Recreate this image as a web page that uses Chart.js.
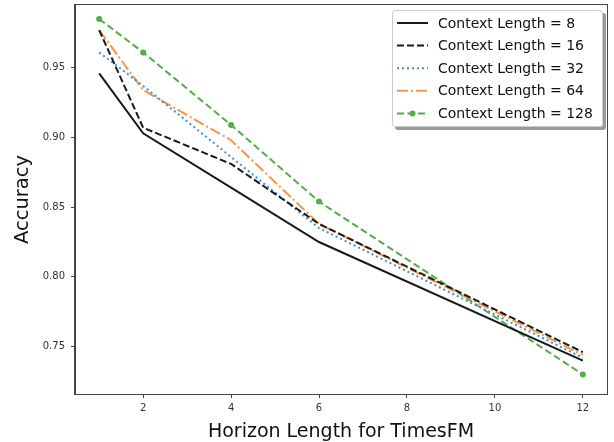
<!DOCTYPE html>
<html><head><meta charset="utf-8">
<script src="https://cdn.jsdelivr.net/npm/chart.js@4/dist/chart.umd.min.js"></script>
<style>html,body{margin:0;padding:0;background:#fff}</style>
</head><body>
<canvas id="c" width="614" height="442"></canvas>
<script>
const horizons = [1, 2, 4, 6, 12];
const ctxLen8   = [0.946, 0.903, 0.864, 0.825, 0.740];
const ctxLen16  = [0.977, 0.907, 0.881, 0.838, 0.746];
const ctxLen32  = [0.961, 0.937, 0.886, 0.835, 0.742];
const ctxLen64  = [0.977, 0.934, 0.898, 0.838, 0.744];
const ctxLen128 = [0.985, 0.961, 0.909, 0.854, 0.730];
const seriesLabels = ['Context Length = 8','Context Length = 16','Context Length = 32','Context Length = 64','Context Length = 128'];
const xTicks = [2, 4, 6, 8, 10, 12];
const yTicks = [0.75, 0.80, 0.85, 0.90, 0.95];

const FONT = "'DejaVu Sans', sans-serif";
const pts = arr => arr.map((v, i) => ({x: horizons[i], y: v}));

const styles = [
  {color:'#1a1a1a', dash:[]},
  {color:'#1a1a1a', dash:[7,3]},
  {color:'#3f8fd2', dash:[2,3]},
  {color:'#f89445', dash:[11,3,2,3]},
  {color:'#52ae48', dash:[7,3.5], marker:true}
];
const values = [ctxLen8, ctxLen16, ctxLen32, ctxLen64, ctxLen128];

const datasets = values.map((v, i) => ({
  label: seriesLabels[i],
  data: pts(v),
  borderColor: styles[i].color,
  backgroundColor: styles[i].color,
  borderWidth: 2,
  borderDash: styles[i].dash,
  pointRadius: styles[i].marker ? 3 : 0,
  pointHoverRadius: 0,
  pointBorderWidth: 0,
  tension: 0,
  fill: false
}));

const framePlugin = {
  id: 'frame',
  afterDraw(chart) {
    const c = chart.ctx, a = chart.chartArea;
    c.save();
    c.strokeStyle = '#444';
    c.lineWidth = 1;
    c.strokeRect(Math.round(a.left) - 0.5, Math.round(a.top) - 0.5, Math.round(a.right - a.left) + 1, Math.round(a.bottom - a.top) + 1);
    // legend
    const x0 = 392, y0 = 10, w = 211, h = 117;
    function rr(x, y, ww, hh, r) {
      c.beginPath();
      c.moveTo(x + r, y); c.lineTo(x + ww - r, y); c.quadraticCurveTo(x + ww, y, x + ww, y + r);
      c.lineTo(x + ww, y + hh - r); c.quadraticCurveTo(x + ww, y + hh, x + ww - r, y + hh);
      c.lineTo(x + r, y + hh); c.quadraticCurveTo(x, y + hh, x, y + hh - r);
      c.lineTo(x, y + r); c.quadraticCurveTo(x, y, x + r, y); c.closePath();
    }
    c.fillStyle = 'rgba(0,0,0,0.4)';
    rr(x0 + 3, y0 + 3, w, h, 3); c.fill();
    c.fillStyle = '#fff';
    rr(x0, y0, w, h, 3); c.fill();
    c.strokeStyle = '#cccccc'; c.lineWidth = 1;
    rr(x0 + 0.5, y0 + 0.5, w - 1, h - 1, 3); c.stroke();
    chart.data.datasets.forEach((ds, i) => {
      const y = 23 + i * 22.6;
      c.beginPath();
      c.setLineDash(ds.borderDash || []);
      c.strokeStyle = ds.borderColor; c.lineWidth = ds.borderWidth;
      c.moveTo(397, y); c.lineTo(428, y); c.stroke();
      c.setLineDash([]);
      if (ds.pointRadius > 0) {
        c.beginPath(); c.fillStyle = ds.borderColor;
        c.arc(412.5, y, ds.pointRadius, 0, Math.PI * 2); c.fill();
      }
      c.fillStyle = '#111';
      c.font = '14px ' + FONT;
      c.textBaseline = 'middle'; c.textAlign = 'left';
      c.fillText(ds.label, 438, y + 1);
    });
    c.restore();
  }
};

new Chart(document.getElementById('c'), {
  type: 'line',
  data: {datasets},
  options: {
    responsive: false,
    animation: false,
    events: [],
    layout: {padding: {top: 5, right: 7, left: 0, bottom: 0}},
    plugins: {legend: {display: false}, tooltip: {enabled: false}},
    scales: {
      x: {
        type: 'linear', min: 0.45, max: 12.55,
        afterBuildTicks: s => { s.ticks = xTicks.map(v => ({value: v})); },
        afterFit: s => { s.height = 48; s.paddingLeft = 0; s.paddingRight = 0; },
        grid: {drawOnChartArea: false, drawTicks: true, tickLength: 4, color: '#444'},
        border: {display: true, color: '#444'},
        ticks: {font: {family: FONT, size: 10}, color: '#333', padding: 4, maxRotation: 0, callback: v => String(v)},
        title: {display: true, text: 'Horizon Length for TimesFM', font: {family: FONT, size: 19, lineHeight: 1}, color: '#111', padding: {top: 0, bottom: 0}}
      },
      y: {
        type: 'linear', min: 0.716, max: 0.995,
        afterBuildTicks: s => { s.ticks = yTicks.map(v => ({value: v})); },
        afterFit: s => { s.width = 75; s.paddingTop = 0; s.paddingBottom = 0; },
        grid: {drawOnChartArea: false, drawTicks: true, tickLength: 4, color: '#444'},
        border: {display: true, color: '#444'},
        ticks: {font: {family: FONT, size: 10}, color: '#333', padding: 6, callback: v => v.toFixed(2)},
        title: {display: true, text: 'Accuracy', font: {family: FONT, size: 19.5, lineHeight: 1}, color: '#111', padding: {top: 13.5, bottom: 0}}
      }
    }
  },
  plugins: [framePlugin]
});
</script>
</body></html>
